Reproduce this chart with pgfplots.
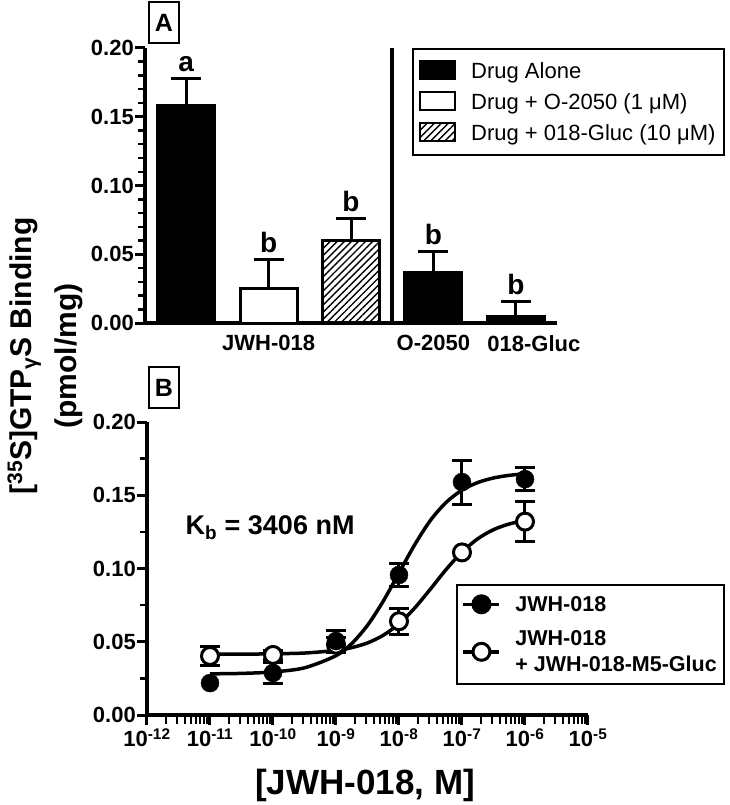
\documentclass[border=0pt]{standalone}
\usepackage{fontspec}
\setmainfont{Liberation Sans}
\usepackage{pgfplots}
\pgfplotsset{compat=1.18}
\usetikzlibrary{patterns.meta}

\newcommand{\fsz}[2]{\fontsize{#1}{#2}\selectfont}

\pgfplotsset{
  panel/.style={
    scale only axis, anchor=south west, clip=false,
    axis x line*=bottom, axis y line*=left,
    axis line style={line width=3.5pt},
    ymin=0, ymax=0.2,
    ytick={0,0.05,0.1,0.15,0.2},
    tick align=outside,
    major tick length=10pt, minor tick length=7pt,
    every tick/.style={black, line width=3pt},
    minor tick style={line width=2.5pt},
    tick label style={font=\bfseries\fsz{22}{24}},
    yticklabel style={inner xsep=1pt, /pgf/number format/.cd, fixed, fixed zerofill, precision=2, assume math mode=true},
  },
}

\begin{document}
\begin{tikzpicture}
\useasboundingbox (0,0) rectangle (729pt,-805pt);

% ---- panel A: bars
\begin{axis}[panel,
  at={(145pt,-323pt)}, width=412pt, height=275pt,
  xmin=-0.5, xmax=4.5,
  ybar, bar width=57pt,
  xtick={1,3,4.22}, xticklabels={JWH-018,O-2050,018-Gluc},
  x tick style={draw=none}, xticklabel style={yshift=1pt},
  minor y tick num=4,
  legend image code/.code={\draw[#1, line width=2.5pt] (0pt,-8pt) rectangle (35pt,10pt);
    \path[draw=none, fill=none] (0pt,0pt) -- (49pt,0pt);},
  legend style={at={(0.648,1.0)}, anchor=north west, draw=black, line width=2pt,
    font=\fsz{22}{24}, row sep=9pt, inner xsep=6pt, inner ysep=11pt},
  legend cell align=left,
]
\addplot[bar shift=0pt, fill=black, draw=black, line width=3pt,
  error bars/.cd, y dir=plus, y explicit,
  error bar style={line width=3pt},
  error mark options={rotate=90, mark size=15pt, line width=3pt}]
  coordinates {(0,0.158) +- (0,0.020) (3,0.037) +- (0,0.015) (4,0.005) +- (0,0.011)};
\addlegendentry{Drug Alone}
\addplot[bar shift=0pt, fill=white, draw=black, line width=3pt,
  error bars/.cd, y dir=plus, y explicit,
  error bar style={line width=3pt},
  error mark options={rotate=90, mark size=15pt, line width=3pt}]
  coordinates {(1,0.025) +- (0,0.021)};
\addlegendentry{Drug + O-2050 (1 μM)}
\addplot[bar shift=0pt, draw=black, line width=3pt,
  pattern={Lines[angle=45, distance=5pt, line width=1.4pt]},
  error bars/.cd, y dir=plus, y explicit,
  error bar style={line width=3pt},
  error mark options={rotate=90, mark size=15pt, line width=3pt}]
  coordinates {(2,0.060) +- (0,0.016)};
\addlegendentry{Drug + 018-Gluc (10 μM)}

\draw[line width=3.5pt] (axis cs:2.5,0) -- (axis cs:2.5,0.2);
\begin{scope}[every node/.style={font=\bfseries\fsz{28}{28}, anchor=base, inner sep=0pt, yshift=7pt}]
\node at (axis cs:0,0.178) {a};
\node at (axis cs:1,0.046) {b};
\node at (axis cs:2,0.076) {b};
\node at (axis cs:3,0.052) {b};
\node at (axis cs:4,0.016) {b};
\end{scope}
\end{axis}

% ---- panel B: concentration-response
\begin{axis}[panel,
  at={(147pt,-715pt)}, width=441pt, height=293pt,
  xmode=log, xmin=1e-12, xmax=1e-5,
  xtick={1e-12,1e-11,1e-10,1e-9,1e-8,1e-7,1e-6,1e-5},
  xticklabels={10\textsuperscript{-12},10\textsuperscript{-11},10\textsuperscript{-10},10\textsuperscript{-9},10\textsuperscript{-8},10\textsuperscript{-7},10\textsuperscript{-6},10\textsuperscript{-5}},
  minor x tick style={/pgfplots/minor tick length=9pt},
  minor y tick num=1,
  legend image code/.code={\draw[black, line width=3.5pt] (0pt,0pt) -- (36pt,0pt);
    \draw[#1] plot coordinates {(18pt,0pt)};
    \path[draw=none, fill=none] (0pt,0pt) -- (50pt,0pt);},
  legend style={at={(0.70,0.447)}, anchor=north west, draw=black, line width=2pt,
    font=\bfseries\fsz{21.5}{26}, row sep=14pt, inner xsep=5pt, inner ysep=9pt,
    cells={align=left}},
  legend cell align=left,
]
% fitted curves
\addplot[forget plot, smooth, line width=3.5pt] coordinates {
 (1e-11,0.0281) (3.16e-11,0.0284) (1e-10,0.0294) (3.16e-10,0.0322) (1e-9,0.0405)
 (1.78e-9,0.0488) (3.16e-9,0.0612) (5.62e-9,0.0777) (1e-8,0.0970) (1.78e-8,0.1163)
 (3.16e-8,0.1329) (5.62e-8,0.1452) (1e-7,0.1535) (1.78e-7,0.1587) (3.16e-7,0.1618)
 (5.62e-7,0.1636) (1e-6,0.1646)};
\addplot[forget plot, smooth, line width=3.5pt] coordinates {
 (1e-11,0.0415) (3.16e-11,0.0415) (1e-10,0.0418) (3.16e-10,0.0423) (1e-9,0.0441)
 (1.78e-9,0.0460) (3.16e-9,0.0492) (5.62e-9,0.0544) (1e-8,0.0623) (1.78e-8,0.0731)
 (3.16e-8,0.0860) (5.62e-8,0.0994) (1e-7,0.1112) (1.78e-7,0.1203) (3.16e-7,0.1265)
 (5.62e-7,0.1304) (1e-6,0.1328)};
% data points: JWH-018 + JWH-018-M5-Gluc (open)
\addplot[forget plot, only marks, mark=*, mark size=8.5pt, mark options={fill=white, draw=black, line width=3pt},
  error bars/.cd, y dir=both, y explicit,
  error bar style={line width=3pt},
  error mark options={rotate=90, mark size=10pt, line width=3pt}]
  coordinates {(1e-11,0.0403) +- (0,0.0067) (1e-10,0.0410) +- (0,0.003) (1e-9,0.0480) +- (0,0.005)
   (1e-8,0.0640) +- (0,0.009) (1e-6,0.1320) +- (0,0.0135)};
\addplot[forget plot, only marks, mark=*, mark size=8.5pt, mark options={fill=white, draw=black, line width=3pt}]
  coordinates {(1e-7,0.1110)};
% data points: JWH-018 (filled)
\addplot[forget plot, only marks, mark=*, mark size=9pt, mark options={fill=black, draw=black},
  error bars/.cd, y dir=both, y explicit,
  error bar style={line width=3pt},
  error mark options={rotate=90, mark size=10pt, line width=3pt}]
  coordinates {(1e-10,0.0287) +- (0,0.007) (1e-9,0.0505) +- (0,0.007)
   (1e-8,0.0956) +- (0,0.008) (1e-7,0.1590) +- (0,0.015) (1e-6,0.1610) +- (0,0.008)};
\addplot[forget plot, only marks, mark=*, mark size=9pt, mark options={fill=black, draw=black}]
  coordinates {(1e-11,0.0218)};
\addlegendimage{only marks, mark=*, mark size=9pt, mark options={fill=black, draw=black}}
\addlegendentry{JWH-018}
\addlegendimage{only marks, mark=*, mark size=8.5pt, mark options={fill=white, draw=black, line width=3pt}}
\addlegendentry{JWH-018\\+ JWH-018-M5-Gluc}

\node[font=\bfseries\fsz{27}{27}] at (axis cs:9e-11,0.128) {K\textsubscript{b} = 3406 nM};
\end{axis}

% shared labels
\node[rotate=90, align=center, font=\bfseries\fsz{30}{45}] at (45pt,-356pt)
  {[\textsuperscript{35}S]GTP\raisebox{-0.35ex}{\fsz{21}{21}γ}S Binding\\(pmol/mg)};
\node[font=\bfseries\fsz{35}{35}] at (365pt,-785pt) {[JWH-018, M]};
\node[draw, line width=1.5pt, minimum width=30pt, minimum height=41pt, inner sep=0pt,
  font=\bfseries\fsz{25}{25}] at (164pt,-22.5pt) {A};
\node[draw, line width=1.5pt, minimum width=30pt, minimum height=41pt, inner sep=0pt,
  font=\bfseries\fsz{25}{25}] at (164pt,-387.5pt) {B};
\end{tikzpicture}
\end{document}
